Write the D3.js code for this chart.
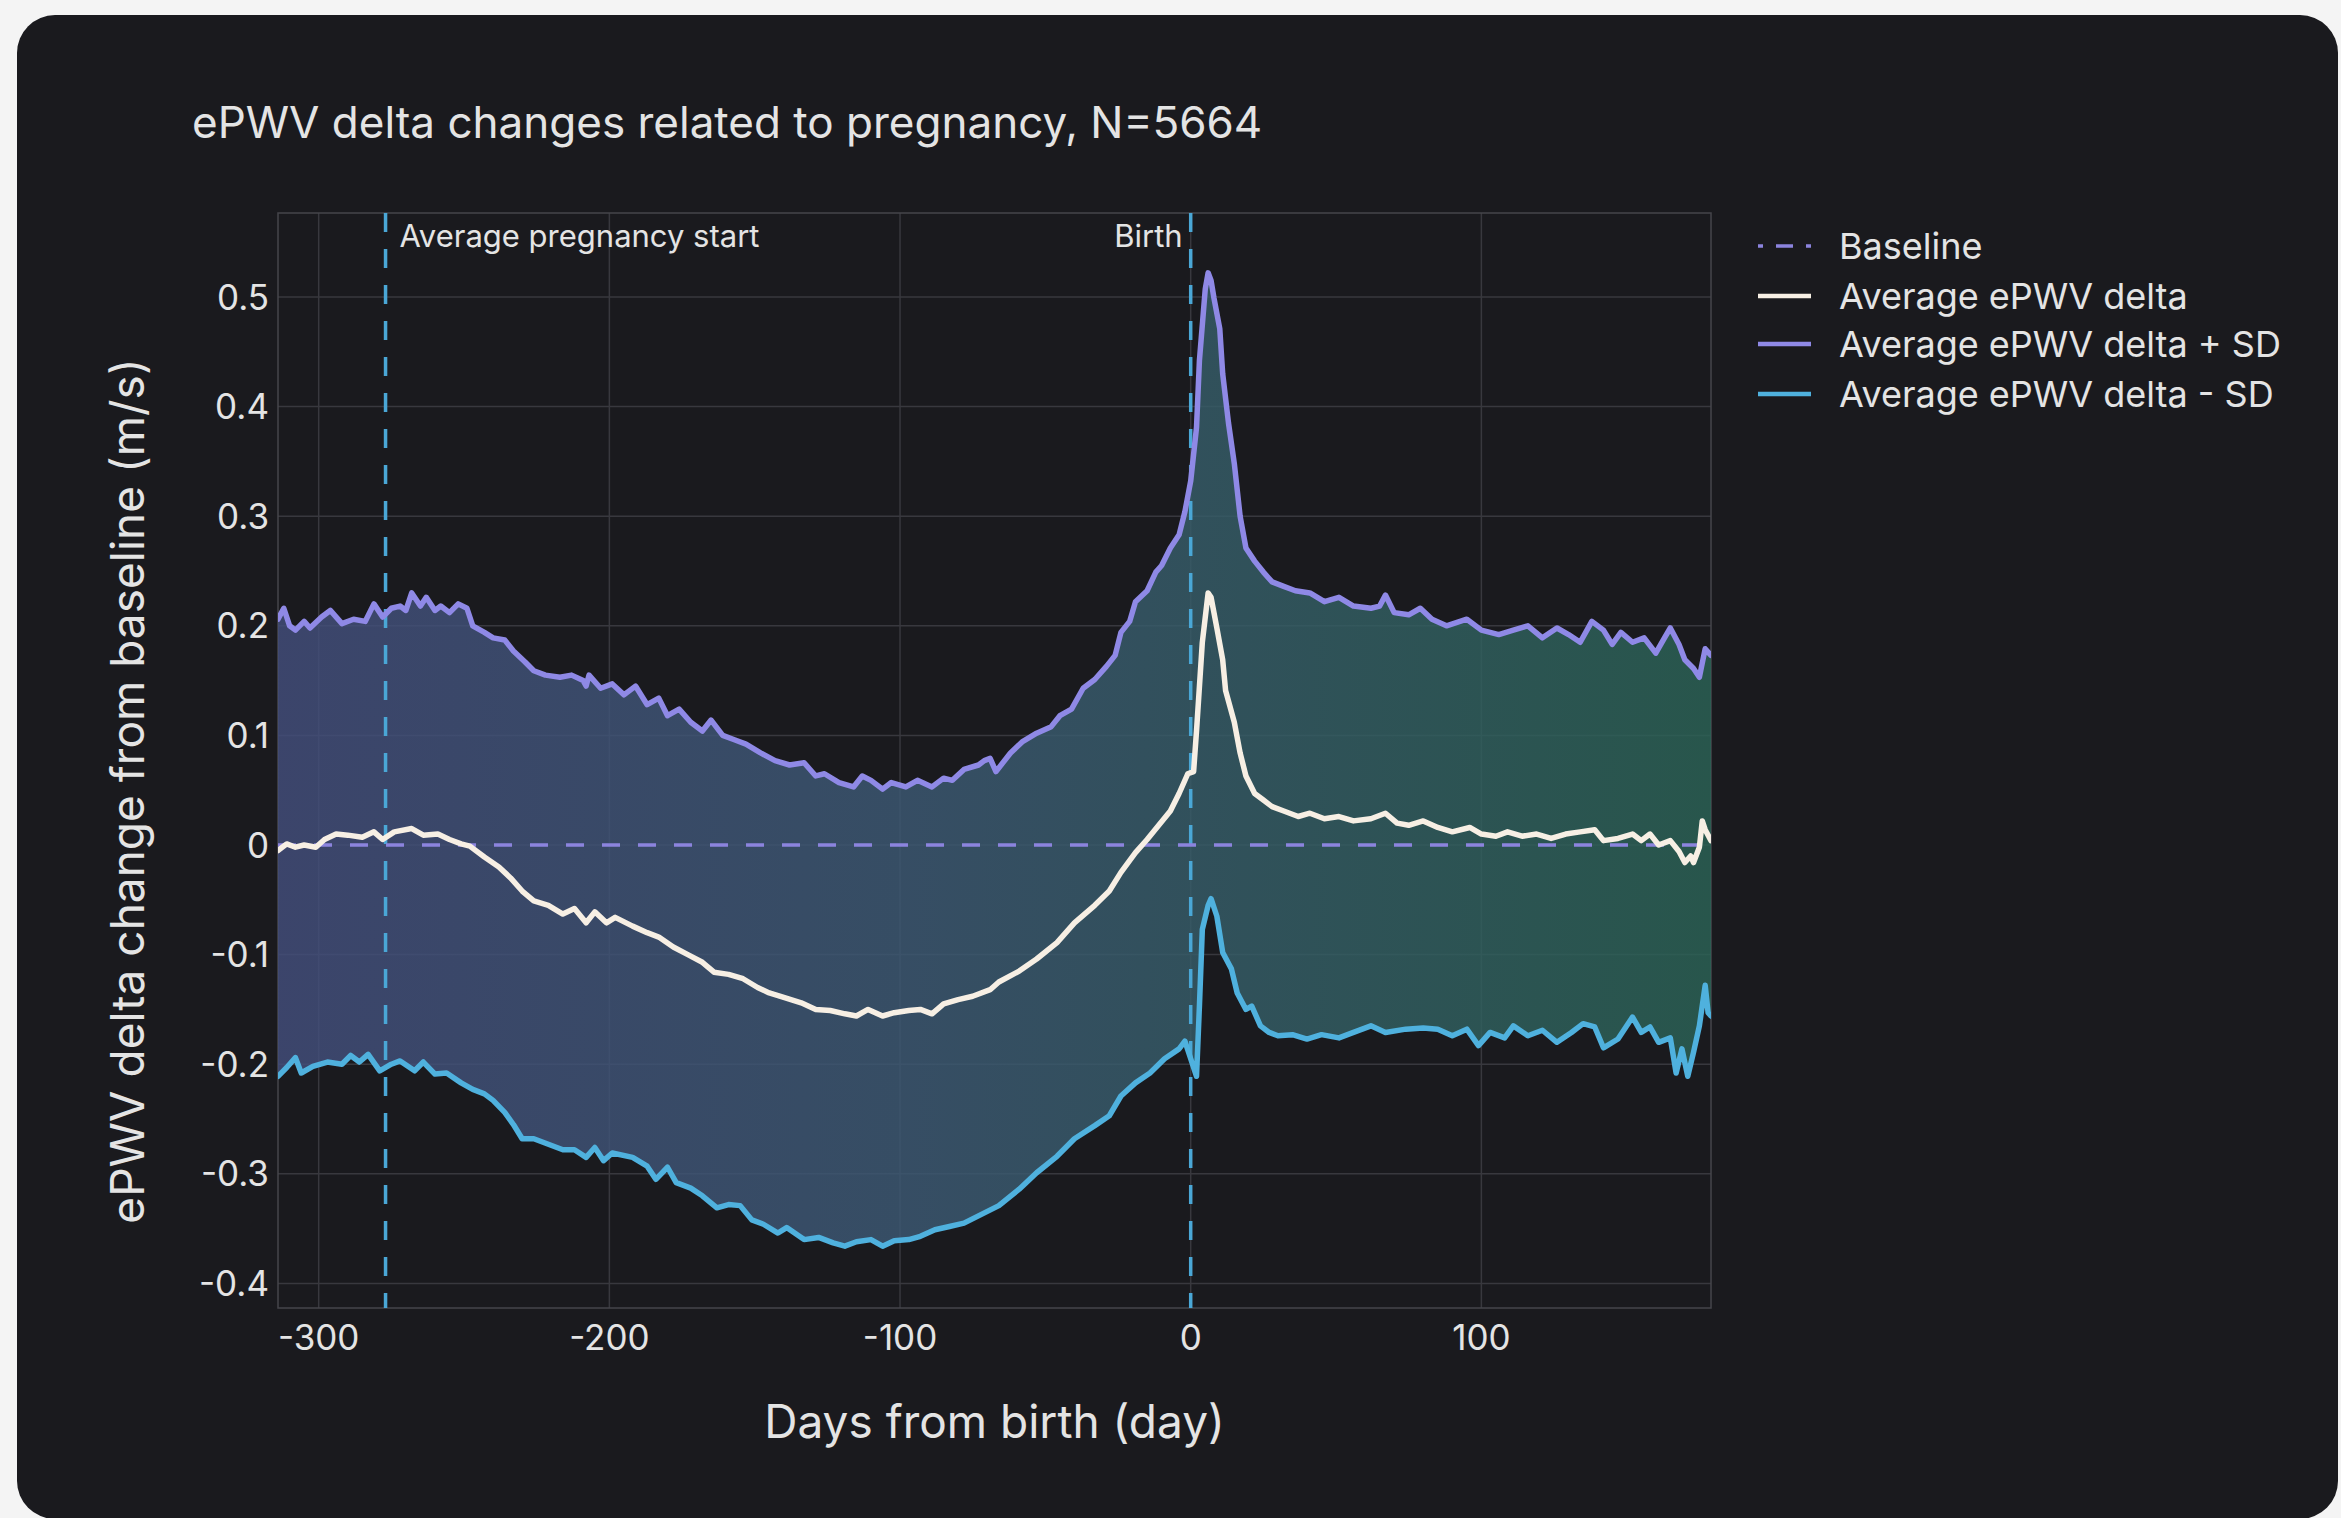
<!DOCTYPE html>
<html>
<head>
<meta charset="utf-8">
<script src="https://cdn.jsdelivr.net/npm/d3@7"></script>
<style>
  html, body { margin: 0; padding: 0; background: #f4f4f4; }
  svg { display: block; }
  text { font-family: Inter, "Noto Sans", sans-serif; }
</style>
</head>
<body>
<svg id="chart" width="2341" height="1518"></svg>
<script>
// ---- data: ePWV delta relative to baseline (m/s) by day from birth ----
const upperDays = [-314,-312,-310,-308,-305,-303,-299,-296,-292,-288,-284,-281,-278,-275,-272,-270,-268,-265,-263,-260,-258,-255,-252,-249,-247,-243,-240,-236,-233,-229,-226,-222,-217,-213,-209,-208,-207,-203,-199,-195,-191,-187,-183,-180,-176,-172,-168,-165,-161,-157,-153,-148,-143,-138,-133,-129,-126,-121,-116,-113,-110,-106,-103,-98,-94,-89,-85,-82,-78,-73,-71,-69,-67,-62,-58,-53,-48,-45,-41,-37,-33,-29,-26,-24,-21,-19,-15,-12,-10,-7,-4,-2,0,2,3,5,6,7,8,10,11,13,15,17,19,22,25,28,32,36,41,46,51,56,62,65,67,70,75,79,83,88,95,100,106,111,116,121,126,130,134,138,142,145,148,152,156,160,163,165,168,170,173,175,177,179];
const upperSD = [0.206,0.216,0.200,0.196,0.204,0.198,0.208,0.214,0.202,0.206,0.204,0.220,0.208,0.216,0.218,0.214,0.230,0.218,0.226,0.214,0.218,0.212,0.220,0.216,0.200,0.194,0.189,0.187,0.177,0.167,0.159,0.155,0.153,0.155,0.150,0.145,0.155,0.143,0.147,0.137,0.145,0.128,0.134,0.118,0.124,0.112,0.104,0.114,0.100,0.096,0.092,0.084,0.077,0.073,0.075,0.063,0.065,0.057,0.053,0.063,0.059,0.051,0.057,0.053,0.059,0.053,0.061,0.059,0.069,0.073,0.077,0.079,0.067,0.084,0.094,0.102,0.108,0.118,0.124,0.143,0.151,0.163,0.173,0.194,0.204,0.222,0.232,0.249,0.255,0.271,0.283,0.304,0.332,0.381,0.442,0.507,0.522,0.515,0.499,0.471,0.430,0.385,0.348,0.300,0.271,0.259,0.249,0.240,0.236,0.232,0.230,0.222,0.226,0.218,0.216,0.218,0.228,0.212,0.210,0.216,0.206,0.200,0.206,0.196,0.192,0.196,0.200,0.189,0.198,0.192,0.185,0.204,0.196,0.183,0.194,0.185,0.189,0.175,0.189,0.198,0.183,0.169,0.161,0.153,0.179,0.173];

const meanDays = [-314,-311,-308,-305,-301,-298,-294,-290,-285,-281,-278,-274,-268,-264,-259,-255,-251,-248,-243,-238,-234,-230,-226,-221,-216,-212,-208,-205,-201,-198,-192,-187,-183,-178,-173,-168,-164,-159,-154,-149,-145,-140,-134,-129,-124,-119,-115,-111,-106,-102,-97,-93,-89,-85,-80,-75,-69,-66,-59,-53,-46,-40,-33,-28,-24,-19,-15,-11,-7,-4,-1,1,2,4,6,7,9,11,12,15,17,19,22,25,28,32,37,41,46,51,56,62,67,71,75,80,85,90,96,100,105,109,114,119,124,129,134,139,142,147,152,155,158,161,165,168,170,172,173,175,176,177,179];
const meanDelta = [-0.005,0.001,-0.002,0.000,-0.002,0.005,0.010,0.009,0.007,0.012,0.005,0.012,0.015,0.009,0.010,0.005,0.001,-0.001,-0.011,-0.020,-0.030,-0.042,-0.051,-0.055,-0.063,-0.058,-0.071,-0.061,-0.071,-0.066,-0.074,-0.080,-0.084,-0.093,-0.100,-0.107,-0.116,-0.118,-0.122,-0.130,-0.135,-0.139,-0.144,-0.150,-0.151,-0.154,-0.156,-0.150,-0.156,-0.153,-0.151,-0.150,-0.154,-0.145,-0.141,-0.138,-0.132,-0.125,-0.115,-0.104,-0.089,-0.071,-0.055,-0.042,-0.025,-0.007,0.005,0.018,0.031,0.047,0.065,0.067,0.104,0.185,0.230,0.226,0.198,0.169,0.141,0.112,0.084,0.063,0.047,0.041,0.035,0.031,0.026,0.029,0.024,0.026,0.022,0.024,0.029,0.020,0.018,0.022,0.016,0.012,0.016,0.010,0.008,0.012,0.008,0.010,0.006,0.010,0.012,0.014,0.004,0.006,0.010,0.004,0.010,0.000,0.004,-0.006,-0.016,-0.010,-0.016,-0.002,0.022,0.014,0.004];

const lowerDays = [-314,-311,-308,-306,-302,-297,-292,-289,-286,-283,-279,-275,-272,-267,-264,-260,-256,-251,-247,-243,-240,-236,-233,-230,-226,-221,-216,-212,-208,-205,-202,-199,-192,-187,-184,-180,-177,-172,-168,-163,-159,-155,-151,-147,-142,-139,-133,-128,-123,-119,-115,-110,-106,-102,-97,-93,-88,-83,-78,-72,-66,-59,-53,-46,-40,-33,-28,-24,-19,-14,-9,-4,-2,0,2,3,4,6,7,9,11,14,16,19,21,24,27,30,35,40,45,51,56,62,67,74,80,85,90,95,99,103,108,111,116,121,126,131,135,139,142,147,152,155,158,161,165,167,169,171,173,175,177,178,179];
const lowerSD = [-0.211,-0.203,-0.194,-0.208,-0.202,-0.198,-0.200,-0.192,-0.198,-0.191,-0.206,-0.200,-0.197,-0.206,-0.198,-0.209,-0.208,-0.217,-0.223,-0.227,-0.233,-0.244,-0.255,-0.268,-0.268,-0.273,-0.278,-0.278,-0.285,-0.276,-0.288,-0.281,-0.285,-0.293,-0.305,-0.294,-0.308,-0.313,-0.320,-0.331,-0.328,-0.329,-0.342,-0.346,-0.354,-0.349,-0.360,-0.358,-0.363,-0.366,-0.362,-0.360,-0.366,-0.361,-0.360,-0.357,-0.351,-0.348,-0.345,-0.337,-0.329,-0.314,-0.299,-0.284,-0.268,-0.256,-0.247,-0.229,-0.217,-0.208,-0.195,-0.186,-0.179,-0.195,-0.211,-0.147,-0.077,-0.055,-0.049,-0.065,-0.098,-0.113,-0.135,-0.150,-0.147,-0.165,-0.171,-0.174,-0.173,-0.177,-0.173,-0.176,-0.171,-0.165,-0.171,-0.168,-0.167,-0.168,-0.174,-0.168,-0.183,-0.171,-0.176,-0.165,-0.174,-0.169,-0.180,-0.171,-0.163,-0.166,-0.185,-0.177,-0.157,-0.171,-0.166,-0.180,-0.176,-0.208,-0.186,-0.211,-0.189,-0.165,-0.128,-0.153,-0.156];

const baselineValue = 0;
const markers = [
  { day: -277, label: "Average pregnancy start", side: "right" },
  { day: 0, label: "Birth", side: "left" }
];
const xTicks = [-300, -200, -100, 0, 100];
const xTickLabels = ["-300", "-200", "-100", "0", "100"];
const yTicks = [-0.4, -0.3, -0.2, -0.1, 0, 0.1, 0.2, 0.3, 0.4, 0.5];
const yTickLabels = ["-0.4", "-0.3", "-0.2", "-0.1", "0", "0.1", "0.2", "0.3", "0.4", "0.5"];
const legendLabels = ["Baseline", "Average ePWV delta", "Average ePWV delta + SD", "Average ePWV delta - SD"];

// ---- layout ----
const plot = { left: 278, right: 1711, top: 213, bottom: 1308 };
const colors = {
  card: "#1a1a1e",
  grid: "#38383e",
  border: "#45454b",
  text: "#e4e4e4",
  upper: "#8f89e6",
  mean: "#f7efe4",
  lower: "#4fb1de",
  marker: "#4aa7d6",
  baseline: "#8c84de"
};

const svg = d3.select("#chart");

// card
svg.append("rect")
  .attr("x", 17).attr("y", 15)
  .attr("width", 2321).attr("height", 1504)
  .attr("rx", 38).attr("ry", 38)
  .attr("fill", colors.card);

const x = d3.scaleLinear().domain([-314, 179]).range([plot.left, plot.right]);
const y = d3.scaleLinear().domain([-0.4224, 0.5766]).range([plot.bottom, plot.top]);

const defs = svg.append("defs");
const grad = defs.append("linearGradient")
  .attr("id", "bandFill")
  .attr("gradientUnits", "userSpaceOnUse")
  .attr("x1", plot.left).attr("x2", plot.right)
  .attr("y1", 0).attr("y2", 0);
grad.append("stop").attr("offset", "0%").attr("stop-color", "#434e7c").attr("stop-opacity", 0.82);
grad.append("stop").attr("offset", "45%").attr("stop-color", "#3c5973").attr("stop-opacity", 0.82);
grad.append("stop").attr("offset", "100%").attr("stop-color", "#2b6356").attr("stop-opacity", 0.82);

defs.append("clipPath").attr("id", "plotClip")
  .append("rect")
  .attr("x", plot.left).attr("y", plot.top)
  .attr("width", plot.right - plot.left).attr("height", plot.bottom - plot.top);

// grid
const grid = svg.append("g");
grid.selectAll(".gx").data(xTicks).join("line")
  .attr("x1", d => x(d)).attr("x2", d => x(d))
  .attr("y1", plot.top).attr("y2", plot.bottom)
  .attr("stroke", colors.grid).attr("stroke-width", 1.5);
grid.selectAll(".gy").data(yTicks).join("line")
  .attr("x1", plot.left).attr("x2", plot.right)
  .attr("y1", d => y(d)).attr("y2", d => y(d))
  .attr("stroke", colors.grid).attr("stroke-width", 1.5);
svg.append("rect")
  .attr("x", plot.left).attr("y", plot.top)
  .attr("width", plot.right - plot.left).attr("height", plot.bottom - plot.top)
  .attr("fill", "none").attr("stroke", colors.border).attr("stroke-width", 1.5);

// series points
const upperPts = upperDays.map((d, i) => [d, upperSD[i]]);
const meanPts = meanDays.map((d, i) => [d, meanDelta[i]]);
const lowerPts = lowerDays.map((d, i) => [d, lowerSD[i]]);

const line = d3.line().x(d => x(d[0])).y(d => y(d[1]));

const plotG = svg.append("g").attr("clip-path", "url(#plotClip)");

// SD band
plotG.append("path")
  .attr("d", line(upperPts.concat(lowerPts.slice().reverse())) + "Z")
  .attr("fill", "url(#bandFill)");

// event markers
plotG.selectAll(".marker").data(markers).join("line")
  .attr("x1", d => x(d.day)).attr("x2", d => x(d.day))
  .attr("y1", plot.top).attr("y2", plot.bottom)
  .attr("stroke", colors.marker).attr("stroke-width", 3.5)
  .attr("stroke-dasharray", "19,17");

// baseline
plotG.append("line")
  .attr("x1", plot.left).attr("x2", plot.right)
  .attr("y1", y(baselineValue)).attr("y2", y(baselineValue))
  .attr("stroke", colors.baseline).attr("stroke-width", 3.5)
  .attr("stroke-dasharray", "18,18");

const seriesStyle = { fill: "none", "stroke-width": 5.5, "stroke-linejoin": "round", "stroke-linecap": "round" };
[[upperPts, colors.upper], [lowerPts, colors.lower], [meanPts, colors.mean]].forEach(([pts, c]) => {
  const p = plotG.append("path").attr("d", line(pts)).attr("stroke", c);
  Object.entries(seriesStyle).forEach(([k, v]) => p.attr(k, v));
});

// marker labels
svg.selectAll(".mlabel").data(markers).join("text")
  .attr("x", d => d.side === "right" ? x(d.day) + 14 : x(d.day) - 8)
  .attr("y", 247)
  .attr("text-anchor", d => d.side === "right" ? "start" : "end")
  .attr("font-size", 31)
  .attr("fill", colors.text)
  .text(d => d.label);

// ticks
svg.selectAll(".ytl").data(yTicks).join("text")
  .attr("x", plot.left - 9)
  .attr("y", d => y(d))
  .attr("dy", "0.36em")
  .attr("text-anchor", "end")
  .attr("font-size", 35)
  .attr("fill", colors.text)
  .text((d, i) => yTickLabels[i]);
svg.selectAll(".xtl").data(xTicks).join("text")
  .attr("x", d => x(d))
  .attr("y", 1350)
  .attr("text-anchor", "middle")
  .attr("font-size", 35)
  .attr("fill", colors.text)
  .text((d, i) => xTickLabels[i]);

// titles
svg.append("text")
  .attr("x", 192).attr("y", 138)
  .attr("font-size", 44)
  .attr("fill", colors.text)
  .text("ePWV delta changes related to pregnancy, N=5664");
svg.append("text")
  .attr("x", (plot.left + plot.right) / 2).attr("y", 1438)
  .attr("text-anchor", "middle")
  .attr("font-size", 46)
  .attr("fill", colors.text)
  .text("Days from birth (day)");
svg.append("text")
  .attr("transform", "translate(127,791) rotate(-90)")
  .attr("dy", "0.36em")
  .attr("text-anchor", "middle")
  .attr("font-size", 46)
  .attr("fill", colors.text)
  .text("ePWV delta change from baseline (m/s)");

// legend
const legend = svg.append("g").attr("transform", "translate(1758,0)");
const rowsY = [246, 296, 344, 394];
const legendStroke = [colors.baseline, colors.mean, colors.upper, colors.lower];
legendLabels.forEach((lab, i) => {
  const ln = legend.append("line")
    .attr("x1", 0).attr("x2", 53)
    .attr("y1", rowsY[i]).attr("y2", rowsY[i])
    .attr("stroke", legendStroke[i]).attr("stroke-width", i === 0 ? 3.5 : 4.5);
  if (i === 0) ln.attr("stroke-dasharray", "5,13,17,13,5");
  legend.append("text")
    .attr("x", 81)
    .attr("y", rowsY[i])
    .attr("dy", "0.36em")
    .attr("font-size", 36)
    .attr("fill", colors.text)
    .text(lab);
});
</script>
</body>
</html>
